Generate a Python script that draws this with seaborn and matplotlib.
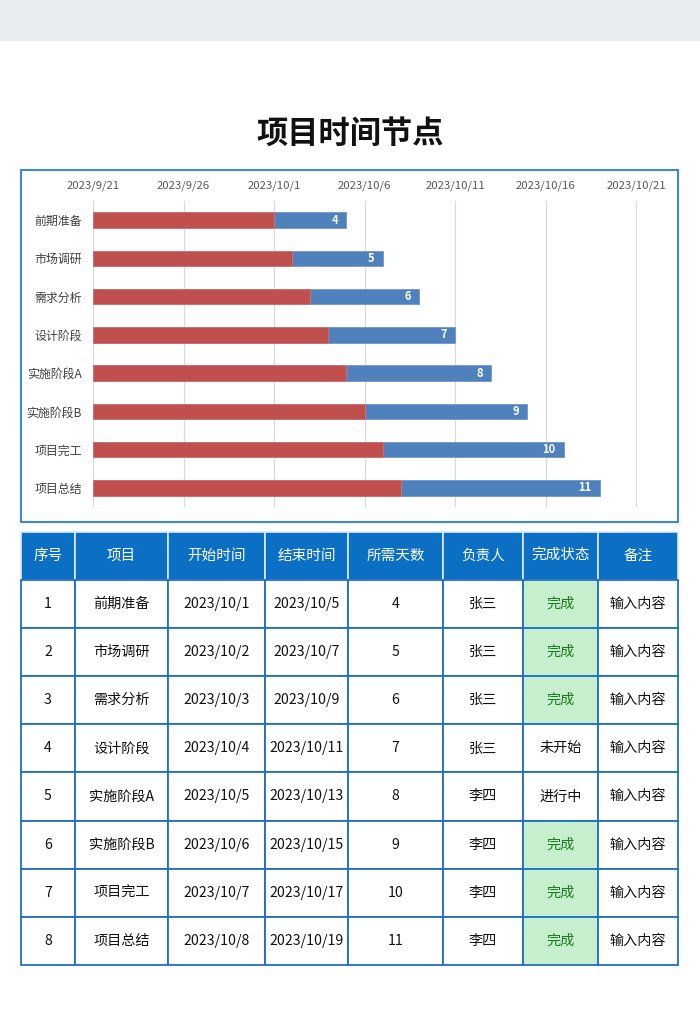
import matplotlib
matplotlib.use("Agg")
import matplotlib.pyplot as plt
from matplotlib.patches import Rectangle
import seaborn as sns
import pandas as pd
import datetime as dt

# ---------------- data ----------------
tasks = ["前期准备", "市场调研", "需求分析", "设计阶段", "实施阶段A", "实施阶段B", "项目完工", "项目总结"]
start_dates = ["2023/10/1", "2023/10/2", "2023/10/3", "2023/10/4", "2023/10/5", "2023/10/6", "2023/10/7", "2023/10/8"]
end_dates = ["2023/10/5", "2023/10/7", "2023/10/9", "2023/10/11", "2023/10/13", "2023/10/15", "2023/10/17", "2023/10/19"]
durations = [4, 5, 6, 7, 8, 9, 10, 11]
owners = ["张三", "张三", "张三", "张三", "李四", "李四", "李四", "李四"]
statuses = ["完成", "完成", "完成", "未开始", "进行中", "完成", "完成", "完成"]
notes = ["输入内容"] * 8
headers = ["序号", "项目", "开始时间", "结束时间", "所需天数", "负责人", "完成状态", "备注"]
axis_start = "2023/9/21"
axis_days = 30
tick_step = 5

# ---------------- style ----------------
sns.set_theme(style="white")
plt.rcParams["font.family"] = ["Noto Sans CJK SC", "DejaVu Sans"]

W, H = 700, 1030
fig = plt.figure(figsize=(7.0, 10.3), dpi=100)
fig.patch.set_facecolor("white")

def fx(px):
    return px / W

def fy(py):
    return 1 - py / H

# top grey band
fig.patches.append(Rectangle((0, fy(41)), 1, 41 / H, transform=fig.transFigure,
                             facecolor="#e9ecef", edgecolor="none", zorder=-2))
# title
fig.text(0.5, fy(134), "项目时间节点", ha="center", va="center", fontsize=22.5,
         fontweight="bold", color="#111111")
# chart frame
fig.patches.append(Rectangle((fx(21), fy(522)), fx(678) - fx(21), fy(170) - fy(522),
                             transform=fig.transFigure, facecolor="none",
                             edgecolor="#3f87d6", linewidth=1.5, zorder=-1))

# ---------------- gantt ----------------
def parse(s):
    return dt.datetime.strptime(s, "%Y/%m/%d")

base = parse(axis_start)
start_off = [(parse(s) - base).days for s in start_dates]
end_off = [(parse(e) - base).days for e in end_dates]
df = pd.DataFrame({"task": tasks, "start": start_off, "end": end_off, "dur": durations})

ax = fig.add_axes([fx(93), fy(507), fx(637) - fx(93), fy(201) - fy(507)])
ax.set_facecolor("none")
ax.set_zorder(2)
sns.barplot(data=df, y="task", x="end", order=tasks, color="#4f81bd", saturation=1,
            width=0.41, ax=ax, edgecolor="#6d97cc", linewidth=0.6)
sns.barplot(data=df, y="task", x="start", order=tasks, color="#c0504d", saturation=1,
            width=0.41, ax=ax, edgecolor="#d27270", linewidth=0.6)

blue_bars = ax.containers[0]
for patch, d in zip(blue_bars, durations):
    ax.text(patch.get_x() + patch.get_width() - 0.45, patch.get_y() + patch.get_height() / 2,
            str(d), ha="right", va="center", color="white", fontsize=8, fontweight="bold")

ticks = list(range(0, axis_days + 1, tick_step))
ax.set_xlim(0, axis_days + 0.05)
ax.set_xticks(ticks)
tick_dates = [base + dt.timedelta(days=t) for t in ticks]
ax.set_xticklabels([f"{d.year}/{d.month}/{d.day}" for d in tick_dates],
                   fontsize=8.2, color="#595959")
ax.xaxis.tick_top()
ax.tick_params(axis="x", length=0, pad=7)
ax.tick_params(axis="y", length=0, pad=8, labelsize=8.6, labelcolor="#404040")
ax.set_xlabel("")
ax.set_ylabel("")
ax.grid(axis="x", color="#d9d9d9", linewidth=0.9)
ax.grid(axis="y", visible=False)
ax.set_axisbelow(True)
for sp in ax.spines.values():
    sp.set_visible(False)

# ---------------- table ----------------
tax = fig.add_axes([0, 0, 1, 1])
tax.set_zorder(1)
tax.set_xlim(0, W)
tax.set_ylim(H, 0)
tax.axis("off")
tax.patch.set_visible(False)

col_edges = [21, 75, 168, 265, 348, 443, 523, 598, 678]
table_top, header_h, row_h = 532, 48, 48.1
border = "#1f6fc6"

# header
for i, htxt in enumerate(headers):
    x0, x1 = col_edges[i], col_edges[i + 1]
    tax.add_patch(Rectangle((x0, table_top), x1 - x0, header_h, facecolor="#0b6fc4",
                            edgecolor="#dbe9f7", linewidth=1.2))
    tax.text((x0 + x1) / 2, table_top + header_h / 2, htxt, ha="center", va="center",
             color="white", fontsize=10.5)

rows = []
for k in range(len(tasks)):
    rows.append([str(k + 1), tasks[k], start_dates[k], end_dates[k], str(durations[k]),
                 owners[k], statuses[k], notes[k]])

for r, row in enumerate(rows):
    y0 = table_top + header_h + r * row_h
    for i, val in enumerate(row):
        x0, x1 = col_edges[i], col_edges[i + 1]
        fc = "white"
        tc = "#111111"
        if i == 6 and val == "完成":
            fc = "#c6efce"
            tc = "#1d7a1d"
        tax.add_patch(Rectangle((x0, y0), x1 - x0, row_h, facecolor=fc,
                                edgecolor=border, linewidth=1.3))
        tax.text((x0 + x1) / 2, y0 + row_h / 2, val, ha="center", va="center",
                 color=tc, fontsize=10.2)

fig.savefig("out.png", dpi=100, facecolor="white")
